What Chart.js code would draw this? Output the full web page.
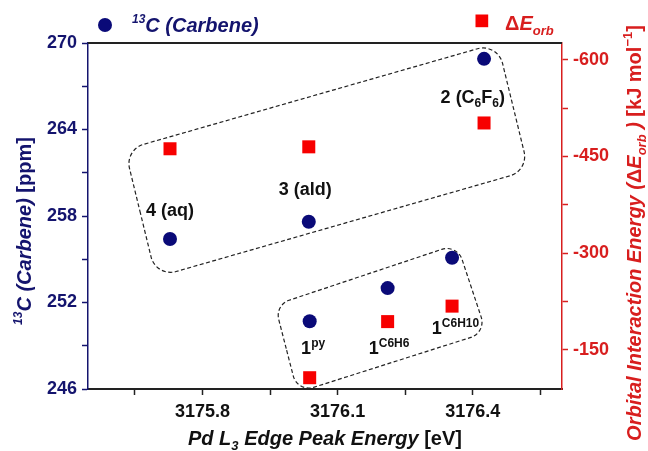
<!DOCTYPE html>
<html lang="en">
<head>
<meta charset="UTF-8">
<title>Carbene 13C vs Pd L3 edge</title>
<script src="https://cdn.jsdelivr.net/npm/chart.js"></script>
<style>
  body { margin: 0; background: #fff; }
  #wrap { width: 648px; height: 451px; position: relative; }
</style>
</head>
<body>
<div id="wrap"><canvas id="chart"></canvas></div>
<script>
// data
const edgeEnergy = [3175.728, 3176.036, 3176.425, 3176.038, 3176.211, 3176.354]; // eV
const carbeneShift = [256.4, 257.6, 268.9, 250.7, 253.0, 255.1];                // ppm
const orbEnergy = [-462, -465, -502, -107, -194, -218];                          // kJ/mol

const xTicks = [3175.65, 3175.8, 3175.95, 3176.1, 3176.25, 3176.4, 3176.55];
const xLabeled = [3175.8, 3176.1, 3176.4];
const yTicks = [246, 249, 252, 255, 258, 261, 264, 267, 270];
const y1Ticks = [-600, -525, -450, -375, -300, -225, -150];

// compound labels (eV, ppm)
const labels = [
  { x: 3175.728, y: 258.4, align: 'center', parts: [['4 (aq)', 'n']] },
  { x: 3176.028, y: 259.9, align: 'center', parts: [['3 (ald)', 'n']] },
  { x: 3176.400, y: 266.25, align: 'center', parts: [['2 (C', 'n'], ['6', 'sub'], ['F', 'n'], ['6', 'sub'], [')', 'n']] },
  { x: 3176.019, y: 248.4, align: 'left', base: true, parts: [['1', 'big'], ['py', 'sup']] },
  { x: 3176.169, y: 248.4, align: 'left', base: true, parts: [['1', 'big'], ['C6H6', 'sup']] },
  { x: 3176.309, y: 249.8, align: 'left', base: true, parts: [['1', 'big'], ['C6H10', 'sup']] }
];

// dashed group outlines, corners in (eV, ppm)
const groupBoxes = [
  { r: 20, pts: [[3175.628, 262.6], [3176.455, 270.0], [3176.524, 261.16], [3175.697, 253.75]] },
  { r: 16, pts: [[3175.961, 251.83], [3176.365, 256.04], [3176.430, 249.92], [3176.011, 245.76]] }
];

const NAVY = '#14146e';
const DOT = '#0a0a78';
const RED = '#d81e1e';
const SQ = '#f70000';
const FONT = '"Liberation Sans", Arial, sans-serif';

function richWidth(ctx, segs) {
  let w = 0;
  segs.forEach(s => { ctx.font = s.f; w += ctx.measureText(s.t).width; });
  return w;
}
function drawRich(ctx, segs, x, y, align) {
  let w = richWidth(ctx, segs);
  let cx = align === 'center' ? x - w / 2 : x;
  segs.forEach(s => {
    ctx.font = s.f;
    ctx.fillText(s.t, cx, y + (s.dy || 0));
    cx += ctx.measureText(s.t).width;
  });
}

const decor = {
  id: 'decor',
  beforeDatasetsDraw(chart) {
    const ctx = chart.ctx, xs = chart.scales.x, ys = chart.scales.y;
    ctx.save();
    ctx.strokeStyle = '#222';
    ctx.lineWidth = 1.2;
    ctx.setLineDash([4, 2.5]);
    groupBoxes.forEach(b => {
      const p = b.pts.map(q => [xs.getPixelForValue(q[0]), ys.getPixelForValue(q[1])]);
      ctx.beginPath();
      const m = [(p[0][0] + p[3][0]) / 2, (p[0][1] + p[3][1]) / 2];
      ctx.moveTo(m[0], m[1]);
      for (let i = 0; i < 4; i++) {
        const a = p[i], n = p[(i + 1) % 4];
        ctx.arcTo(a[0], a[1], n[0], n[1], b.r);
      }
      ctx.closePath();
      ctx.stroke();
    });
    ctx.restore();
  },
  afterDraw(chart) {
    const ctx = chart.ctx, a = chart.chartArea;
    const xs = chart.scales.x, ys = chart.scales.y;
    ctx.save();
    // top frame
    ctx.strokeStyle = '#222';
    ctx.lineWidth = 2;
    ctx.beginPath();
    ctx.moveTo(a.left, a.top);
    ctx.lineTo(a.right, a.top);
    ctx.stroke();

    ctx.textBaseline = 'alphabetic';
    const bi = s => 'italic bold ' + s + 'px ' + FONT;
    const b = s => 'bold ' + s + 'px ' + FONT;

    // legend
    ctx.fillStyle = DOT;
    ctx.beginPath();
    ctx.arc(105, 25, 7, 0, Math.PI * 2);
    ctx.fill();
    ctx.fillStyle = NAVY;
    drawRich(ctx, [
      { t: '13', f: bi(12), dy: -9 },
      { t: 'C (Carbene)', f: bi(20) }
    ], 132, 32, 'left');
    ctx.fillStyle = SQ;
    ctx.fillRect(475.5, 14.5, 12.7, 12.7);
    ctx.fillStyle = RED;
    drawRich(ctx, [
      { t: '\u0394', f: b(20) },
      { t: 'E', f: bi(20) },
      { t: 'orb', f: bi(13), dy: 5 }
    ], 505, 30, 'left');

    // axis titles
    ctx.fillStyle = '#111';
    drawRich(ctx, [
      { t: 'Pd L', f: bi(20) },
      { t: '3', f: bi(13), dy: 5 },
      { t: ' Edge Peak Energy', f: bi(20) },
      { t: ' [eV]', f: b(20) }
    ], 325, 445, 'center');

    ctx.save();
    ctx.translate(31, 231);
    ctx.rotate(-Math.PI / 2);
    ctx.fillStyle = NAVY;
    drawRich(ctx, [
      { t: '13', f: bi(12), dy: -9 },
      { t: 'C (Carbene)', f: bi(20) },
      { t: ' [ppm]', f: b(20) }
    ], 0, 0, 'center');
    ctx.restore();

    ctx.save();
    ctx.translate(641, 233);
    ctx.rotate(-Math.PI / 2);
    ctx.fillStyle = RED;
    drawRich(ctx, [
      { t: 'Orbital Interaction Energy (', f: bi(20) },
      { t: '\u0394', f: b(20) },
      { t: 'E', f: bi(20) },
      { t: 'orb', f: bi(13), dy: 5 },
      { t: ' ) ', f: bi(20) },
      { t: '[kJ mol', f: b(20) },
      { t: '\u22121', f: b(13), dy: -9 },
      { t: ']', f: b(20) }
    ], 0, 0, 'center');
    ctx.restore();

    // compound labels
    ctx.fillStyle = '#111';
    const partFont = { n: [b(18), 0], sub: [b(12), 4], big: [b(18), 0], sup: [b(12), -7] };
    labels.forEach(l => {
      const px = xs.getPixelForValue(l.x), py = ys.getPixelForValue(l.y);
      const segs = l.parts.map(p => ({ t: p[0], f: partFont[p[1]][0], dy: partFont[p[1]][1] }));
      drawRich(ctx, segs, px, l.base ? py : py + 6, l.align);
    });
    ctx.restore();
  }
};

new Chart(document.getElementById('chart'), {
  type: 'scatter',
  data: {
    datasets: [
      {
        label: '13C (Carbene)',
        data: edgeEnergy.map((x, i) => ({ x: x, y: carbeneShift[i] })),
        yAxisID: 'y',
        pointStyle: 'circle',
        pointRadius: 7,
        backgroundColor: DOT,
        borderWidth: 0
      },
      {
        label: 'ΔEorb',
        data: edgeEnergy.map((x, i) => ({ x: x, y: orbEnergy[i] })),
        yAxisID: 'y1',
        pointStyle: 'rect',
        pointRadius: 9.2,
        backgroundColor: SQ,
        borderWidth: 0
      }
    ]
  },
  options: {
    responsive: true,
    maintainAspectRatio: false,
    animation: false,
    layout: { padding: { top: 43, left: 0, right: 0, bottom: 0 } },
    plugins: { legend: { display: false }, tooltip: { enabled: false } },
    scales: {
      x: {
        type: 'linear',
        min: 3175.546,
        max: 3176.598,
        afterBuildTicks: s => { s.ticks = xTicks.map(v => ({ value: v })); },
        afterFit: s => { s.height = 62; },
        border: { color: '#222', width: 2 },
        grid: { drawOnChartArea: false, tickLength: 6, tickColor: '#222', tickWidth: 1.5 },
        ticks: {
          color: '#111',
          font: { family: FONT, size: 18, weight: 'bold' },
          padding: 6,
          maxRotation: 0,
          autoSkip: false,
          callback: v => xLabeled.some(t => Math.abs(t - v) < 1e-6) ? v.toFixed(1) : ''
        }
      },
      y: {
        position: 'left',
        min: 246,
        max: 270,
        afterBuildTicks: s => { s.ticks = yTicks.map(v => ({ value: v })); },
        afterFit: s => { s.width = 88; },
        border: { color: NAVY, width: 1.5 },
        grid: { drawOnChartArea: false, tickLength: 6, tickColor: NAVY, tickWidth: 1.5 },
        ticks: {
          color: NAVY,
          font: { family: FONT, size: 18, weight: 'bold' },
          padding: 5,
          autoSkip: false,
          callback: v => v % 6 === 0 ? String(v) : ''
        }
      },
      y1: {
        position: 'right',
        reverse: true,
        min: -626,
        max: -89.5,
        afterBuildTicks: s => { s.ticks = y1Ticks.map(v => ({ value: v })); },
        afterFit: s => { s.width = 86; },
        border: { color: RED, width: 1.5 },
        grid: { drawOnChartArea: false, tickLength: 6, tickColor: RED, tickWidth: 1.5 },
        ticks: {
          color: RED,
          font: { family: FONT, size: 18, weight: 'bold' },
          padding: 5,
          autoSkip: false,
          callback: v => v % 150 === 0 ? String(v) : ''
        }
      }
    }
  },
  plugins: [decor]
});
</script>
</body>
</html>
